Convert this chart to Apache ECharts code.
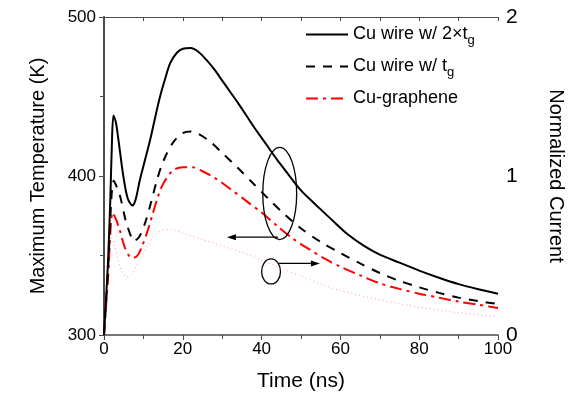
<!DOCTYPE html>
<html>
<head>
<meta charset="utf-8">
<script src="https://cdn.jsdelivr.net/npm/echarts@6/dist/echarts.min.js"></script>
<style>html,body{margin:0;padding:0;background:#fff}#c{width:576px;height:400px}</style>
</head>
<body>
<div id="c"></div>
<script>
// ---- data ----
var xTicks = [0, 20, 40, 60, 80, 100];
var leftTicks = [300, 400, 500];
var rightTicks = [0, 1, 2];
var seriesNames = ['Cu wire w/ 2\u00d7t_g', 'Cu wire w/ t_g', 'Cu-graphene'];

var solidT = [0, 1, 1.6, 2, 2.4, 3, 3.6, 4.9, 6, 7.2, 8, 9.1, 10.4, 11.7, 13, 14.2, 15.5, 16.8, 18.5, 20, 22, 24, 26, 28, 30, 32, 34, 36, 38, 40, 42, 44, 46, 48, 50, 52, 55, 58, 62, 66, 70, 75, 80, 85, 90, 95, 100];
var solidV = [300, 345, 385, 420, 438, 434, 424, 400, 386, 381.5, 385, 397.5, 410, 422.6, 437, 449.7, 461, 471, 477.5, 480, 480.5, 478, 473, 467, 460, 453, 446, 438.5, 431, 424, 417, 410, 403.5, 397, 391, 386, 379, 372, 363, 356, 350.5, 345.5, 340.5, 336, 332, 328.8, 326];

var dashT = [0, 1, 2.5, 4, 5.5, 7, 7.5, 9, 10.5, 12, 13.5, 15, 17.5, 20, 22, 24, 27, 30, 34, 38, 42, 46, 50, 55, 60, 65, 70, 75, 80, 85, 90, 95, 100];
var dashV = [300, 340, 397, 388, 372, 361, 359, 362, 371, 384, 398, 409, 421, 427, 428, 426.5, 421.5, 414.5, 405, 395, 385, 375.5, 367, 358.5, 351.5, 345, 339, 334, 330, 326.5, 323.5, 321.3, 319.5];

var redT = [0, 1, 2.2, 3, 4, 5.3, 6.6, 7.5, 8.5, 9.6, 11, 12.4, 13.7, 15, 17.5, 20, 22.5, 25, 28, 32, 36, 40, 44, 48, 52, 56, 60, 65, 70, 75, 80, 85, 90, 95, 100];
var redV = [300, 335, 377, 373, 366, 355, 349, 348.5, 350, 355.5, 365, 376.5, 387, 395, 403.5, 405.5, 405.5, 403, 399, 392, 384.5, 377, 368.5, 360.5, 354, 348, 343, 337.5, 332.5, 329, 326, 323.5, 321, 319, 317];

var curT = [0, 0.5, 1, 1.8, 2.5, 3.5, 4.5, 5.8, 7, 9, 11, 13, 15, 17, 20, 25, 30, 35, 40, 45, 50, 55, 60, 70, 80, 90, 100];
var curV = [0, 0.2, 0.45, 0.62, 0.58, 0.48, 0.4, 0.365, 0.38, 0.47, 0.56, 0.63, 0.66, 0.665, 0.64, 0.6, 0.56, 0.52, 0.47, 0.42, 0.37, 0.32, 0.28, 0.22, 0.175, 0.14, 0.115];

// annotation anchors in data coordinates [time, temperature]
var ellipseBig = {c: [44.6, 389], rt: 4.3, rv: 29};
var arrowLeft = {from: [44.2, 361.5], to: [31.2, 361.5]};
var ellipseSmall = {c: [42.4, 340], rt: 2.4, rv: 7.9};
var arrowRight = {from: [44.4, 345], to: [54.8, 345]};

function pairs(t, v) { return t.map(function (x, i) { return [x, v[i]]; }); }

var FONT = 'Liberation Sans';
var axisCol = '#4a4a4a';
var chart = echarts.init(document.getElementById('c'), null, {renderer: 'canvas'});

function legendFmt(name) {
  var i = name.indexOf('_');
  if (i < 0) return '{a|' + name + '}{s| }';
  return '{a|' + name.slice(0, i) + '}{s|' + name.slice(i + 1) + '}';
}

var option = {
  backgroundColor: '#fff',
  animation: false,
  grid: {left: 104, right: 78, top: 17, bottom: 65},
  legend: {
    orient: 'vertical', left: 300, top: 17,
    itemWidth: 42, itemHeight: 14, itemGap: 7,
    data: seriesNames,
    formatter: legendFmt,
    itemStyle: {opacity: 0},
    textStyle: {
      fontFamily: FONT, color: '#000',
      rich: {
        a: {fontSize: 18, fontFamily: FONT, color: '#000', lineHeight: 25},
        s: {fontSize: 13, fontFamily: FONT, color: '#000', padding: [12, 0, 0, 0], lineHeight: 13}
      }
    }
  },
  xAxis: [{
    type: 'value', min: xTicks[0], max: xTicks[xTicks.length - 1], interval: xTicks[1] - xTicks[0],
    name: 'Time (ns)', nameLocation: 'middle', nameGap: 36,
    nameTextStyle: {fontFamily: FONT, fontSize: 21, color: '#000'},
    axisLine: {lineStyle: {color: axisCol, width: 1.5}},
    axisTick: {inside: false, length: 5, lineStyle: {color: axisCol}},
    minorTick: {show: true, splitNumber: 2, length: 4, lineStyle: {color: axisCol}},
    axisLabel: {fontFamily: FONT, fontSize: 17, color: '#000', margin: 6},
    splitLine: {show: false}
  }, {
    type: 'value', position: 'top', min: xTicks[0], max: xTicks[xTicks.length - 1], interval: xTicks[1] - xTicks[0],
    axisLine: {lineStyle: {color: axisCol, width: 1}},
    axisTick: {inside: true, length: 4, lineStyle: {color: axisCol}},
    minorTick: {show: true, splitNumber: 2, length: 4, lineStyle: {color: axisCol}},
    axisLabel: {show: false}, splitLine: {show: false}
  }],
  yAxis: [{
    type: 'value', min: leftTicks[0], max: leftTicks[leftTicks.length - 1], interval: leftTicks[1] - leftTicks[0],
    name: 'Maximum Temperature (K)', nameLocation: 'middle', nameGap: 56,
    nameTextStyle: {fontFamily: FONT, fontSize: 20, color: '#000'},
    axisLine: {show: true, lineStyle: {color: axisCol, width: 2}},
    axisTick: {show: true, inside: false, length: 5, lineStyle: {color: axisCol}},
    minorTick: {show: true, splitNumber: 2, length: 4, lineStyle: {color: axisCol}},
    axisLabel: {fontFamily: FONT, fontSize: 17, color: '#000', margin: 8},
    splitLine: {show: false}
  }, {
    type: 'value', position: 'right', min: rightTicks[0], max: rightTicks[rightTicks.length - 1], interval: rightTicks[1] - rightTicks[0],
    name: 'Normalized Current', nameLocation: 'middle', nameGap: 48, nameRotate: -90,
    nameTextStyle: {fontFamily: FONT, fontSize: 20, color: '#000'},
    axisLine: {show: true, lineStyle: {color: axisCol, width: 1}},
    axisTick: {show: true, inside: true, length: 5, lineStyle: {color: axisCol}},
    minorTick: {show: true, splitNumber: 2, length: 4, lineStyle: {color: axisCol}},
    axisLabel: {fontFamily: FONT, fontSize: 21, color: '#000', margin: 8},
    splitLine: {show: false}
  }],
  series: [{
    name: seriesNames[0], type: 'line', data: pairs(solidT, solidV),
    showSymbol: false, symbol: 'none', smooth: 0.3, z: 5,
    itemStyle: {color: '#000'},
    lineStyle: {color: '#000', width: 2, type: 'solid'}
  }, {
    name: seriesNames[1], type: 'line', data: pairs(dashT, dashV),
    showSymbol: false, symbol: 'none', smooth: 0.3, z: 4,
    itemStyle: {color: '#000'},
    lineStyle: {color: '#000', width: 2, type: [9, 8]}
  }, {
    name: seriesNames[2], type: 'line', data: pairs(redT, redV),
    showSymbol: false, symbol: 'none', smooth: 0.3, z: 3,
    itemStyle: {color: '#ff0000'},
    lineStyle: {color: '#ff0000', width: 2, type: [12, 5, 3, 5]}
  }, {
    name: 'current', type: 'line', yAxisIndex: 1, data: pairs(curT, curV),
    showSymbol: false, symbol: 'none', smooth: 0.3, z: 2,
    lineStyle: {color: '#ff9a9a', width: 1, type: [1, 3]}
  }]
};
chart.setOption(option);

function px(p) { return chart.convertToPixel({xAxisIndex: 0, yAxisIndex: 0}, p); }
function ell(e) {
  var c = px(e.c), a = px([e.c[0] + e.rt, e.c[1] + e.rv]);
  return {type: 'ellipse', shape: {cx: c[0], cy: c[1], rx: Math.abs(a[0] - c[0]), ry: Math.abs(a[1] - c[1])},
    style: {fill: 'none', stroke: '#000', lineWidth: 1.3}, z: 10};
}
function arrow(a) {
  var p0 = px(a.from), p1 = px(a.to);
  var dir = p1[0] > p0[0] ? 1 : -1, L = 9, W = 3;
  return [{type: 'line', shape: {x1: p0[0], y1: p0[1], x2: p1[0] - dir * L, y2: p1[1]},
    style: {stroke: '#000', lineWidth: 1.3}, z: 10},
    {type: 'polygon', shape: {points: [[p1[0], p1[1]], [p1[0] - dir * L, p1[1] - W], [p1[0] - dir * L, p1[1] + W]]},
    style: {fill: '#000'}, z: 10}];
}
chart.setOption({graphic: [ell(ellipseBig), ell(ellipseSmall)].concat(arrow(arrowLeft), arrow(arrowRight))});
</script>
</body>
</html>
